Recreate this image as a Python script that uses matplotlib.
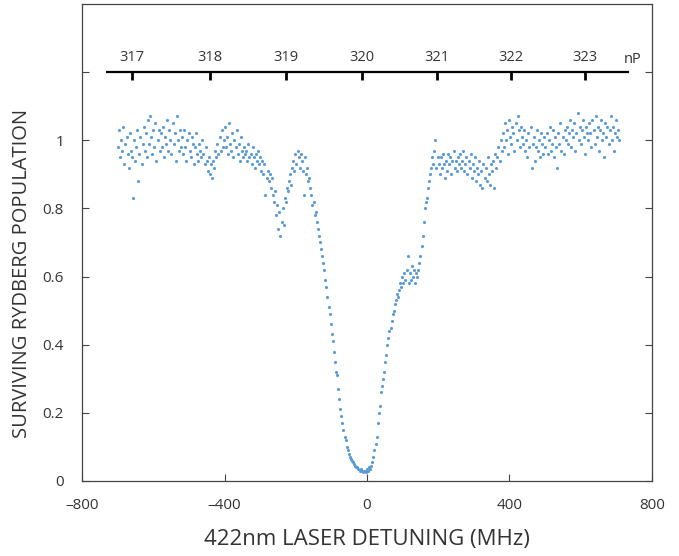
import matplotlib
matplotlib.use('Agg')

import matplotlib.pyplot as plt
import numpy as np

# detuning scan, 3 MHz steps
detuning = np.arange(-699, 711, 3)

# surviving Rydberg population (20 points per row = 60 MHz)
population = [
    0.98, 1.03, 0.95, 1.00, 0.97, 1.04, 0.93, 0.99, 1.01, 0.96, 0.92, 1.02, 0.97, 0.95, 0.83, 1.00, 0.94, 0.98, 1.03, 0.88,
    0.96, 1.01, 0.93, 0.99, 1.04, 0.97, 1.02, 0.95, 1.06, 0.99, 1.07, 1.01, 0.96, 1.03, 0.98, 1.05, 0.94, 1.00, 1.03, 0.97,
    1.02, 0.98, 1.04, 0.95, 1.01, 0.99, 1.06, 0.97, 1.03, 1.00, 0.96, 1.05, 0.99, 1.02, 0.94, 1.07, 1.00, 0.97, 1.03, 0.98,
    1.01, 0.96, 1.03, 0.98, 0.94, 1.00, 1.02, 0.97, 0.95, 1.01, 0.99, 0.93, 0.98, 1.02, 0.96, 0.94, 0.99, 0.97, 0.95, 1.00,
    0.96, 0.93, 0.98, 0.94, 0.91, 0.95, 0.90, 0.93, 0.89, 0.94, 0.92, 0.97, 0.95, 0.99, 0.96, 1.01, 0.97, 1.03, 0.98, 1.00,
    1.04, 0.98, 1.01, 0.96, 1.05, 0.99, 0.97, 1.02, 0.95, 1.00, 0.98, 1.03, 0.96, 0.99, 0.94, 1.01, 0.97, 0.95, 0.98, 0.96,
    0.97, 0.94, 0.99, 0.95, 0.96, 0.93, 0.98, 0.95, 0.92, 0.96, 0.94, 0.97, 0.93, 0.95, 0.91, 0.94, 0.90, 0.93, 0.84, 0.89,
    0.91, 0.88, 0.90, 0.86, 0.89, 0.84, 0.82, 0.85, 0.78, 0.81, 0.74, 0.79, 0.72, 0.76, 0.80, 0.75, 0.83, 0.82, 0.86, 0.85,
    0.88, 0.90, 0.87, 0.92, 0.94, 0.91, 0.96, 0.93, 0.97, 0.95, 0.92, 0.96, 0.94, 0.91, 0.84, 0.95, 0.90, 0.92, 0.88, 0.89,
    0.86, 0.84, 0.81, 0.82, 0.78, 0.79, 0.76, 0.74, 0.72, 0.70, 0.68, 0.66, 0.64, 0.62, 0.59, 0.57, 0.54, 0.51, 0.49, 0.46,
    0.43, 0.41, 0.38, 0.35, 0.32, 0.31, 0.27, 0.24, 0.21, 0.19, 0.17, 0.15, 0.13, 0.12, 0.10, 0.09, 0.08, 0.07, 0.065, 0.06,
    0.055, 0.05, 0.045, 0.04, 0.04, 0.035, 0.03, 0.035, 0.03, 0.025, 0.03, 0.03, 0.025, 0.035, 0.03, 0.04, 0.035, 0.045, 0.055, 0.07,
    0.09, 0.11, 0.13, 0.17, 0.20, 0.22, 0.26, 0.28, 0.30, 0.32, 0.35, 0.37, 0.40, 0.42, 0.44, 0.45, 0.47, 0.49, 0.50, 0.52,
    0.53, 0.55, 0.54, 0.56, 0.58, 0.57, 0.60, 0.58, 0.61, 0.59, 0.62, 0.66, 0.58, 0.61, 0.59, 0.63, 0.60, 0.62, 0.58, 0.61,
    0.60, 0.62, 0.64, 0.66, 0.69, 0.72, 0.76, 0.80, 0.82, 0.83, 0.86, 0.88, 0.90, 0.92, 0.95, 0.93, 0.97, 1.00, 0.92, 0.95,
    0.93, 0.90, 0.95, 0.92, 0.96, 0.93, 0.89, 0.94, 0.91, 0.96, 0.93, 0.95, 0.90, 0.94, 0.97, 0.92, 0.94, 0.91, 0.95, 0.93,
    0.96, 0.92, 0.94, 0.97, 0.91, 0.93, 0.95, 0.90, 0.94, 0.92, 0.96, 0.89, 0.93, 0.91, 0.95, 0.88, 0.92, 0.90, 0.94, 0.87,
    0.91, 0.86, 0.93, 0.89, 0.92, 0.88, 0.95, 0.90, 0.87, 0.93, 0.91, 0.94, 0.86, 0.96, 0.92, 0.95, 0.98, 0.94, 1.00, 0.97,
    1.02, 0.98, 1.05, 1.00, 1.03, 0.96, 1.06, 1.01, 0.99, 1.04, 1.02, 0.97, 1.05, 1.00, 1.07, 1.03, 0.98, 1.04, 1.01, 0.99,
    1.03, 0.97, 1.00, 0.95, 1.02, 0.98, 1.04, 0.92, 0.99, 1.01, 0.94, 0.98, 1.03, 0.97, 1.00, 0.95, 1.02, 0.99, 0.96, 1.01,
    0.98, 1.02, 0.96, 1.00, 1.04, 0.97, 0.99, 1.03, 0.95, 1.01, 0.98, 0.92, 1.02, 0.99, 1.05, 0.97, 1.01, 0.96, 1.03, 1.00,
    1.04, 0.99, 1.02, 1.06, 0.98, 1.03, 1.01, 1.05, 0.97, 1.02, 1.08, 1.00, 1.04, 0.99, 1.03, 1.06, 1.01, 0.96, 1.04, 1.02,
    1.00, 1.05, 1.02, 0.98, 1.06, 1.03, 0.99, 1.07, 1.01, 1.04, 0.97, 1.03, 1.06, 1.00, 1.02, 0.95, 1.05, 1.01, 1.04, 0.99,
    1.03, 1.07, 1.00, 1.04, 0.97, 1.02, 1.06, 1.01, 1.03, 1.00,
]

# nP Rydberg levels marked along the top
n_levels = [317, 318, 319, 320, 321, 322, 323]
level_pos = [-660, -442, -228, -15, 197, 404, 612]

x_ticks = [-800, -400, 0, 400, 800]
y_ticks = [0, 0.2, 0.4, 0.6, 0.8, 1, 1.2]
y_labels = ['0', '0.2', '0.4', '0.6', '0.8', '1', '']

plt.rcParams['font.family'] = ['Open Sans', 'DejaVu Sans']
txt = '#333333'
frame = '#444444'

fig = plt.figure(figsize=(6.79, 5.56), dpi=100)
ax = fig.add_axes([0.1208, 0.1349, 0.8394, 0.8579])

ax.scatter(detuning, population, s=5, color='#5B9BD5', linewidths=0, zorder=3)

# level ruler
ax.plot([-732, 735], [1.2, 1.2], color='black', lw=1.6, solid_capstyle='butt')
for n, p in zip(n_levels, level_pos):
    ax.plot([p, p], [1.2, 1.177], color='black', lw=2, solid_capstyle='butt')
    ax.text(p, 1.243, str(n), ha='center', va='center', fontsize=10.5, color=txt)
ax.text(745, 1.236, 'nP', ha='center', va='center', fontsize=10.5, color=txt)

ax.set_xlim(-800, 800)
ax.set_ylim(0, 1.4)
ax.set_xticks(x_ticks)
ax.set_xticklabels(['\u2013800', '\u2013400', '0', '400', '800'])
ax.set_yticks(y_ticks)
ax.set_yticklabels(y_labels)

ax.tick_params(axis='both', direction='in', length=5, width=0.8, color=frame,
               labelsize=11, labelcolor=txt)
ax.tick_params(axis='y', right=True, pad=13)
ax.tick_params(axis='x', pad=12)
for s in ax.spines.values():
    s.set_color(frame)
    s.set_linewidth(0.9)

ax.set_xlabel('422nm LASER DETUNING (MHz)', fontsize=16, color=txt, labelpad=12)
ax.set_ylabel('SURVIVING RYDBERG POPULATION', fontsize=14.5, color=txt)
ax.yaxis.set_label_coords(-0.087, 0.435)

plt.savefig('out.png', dpi=100)
plt.close(fig)
